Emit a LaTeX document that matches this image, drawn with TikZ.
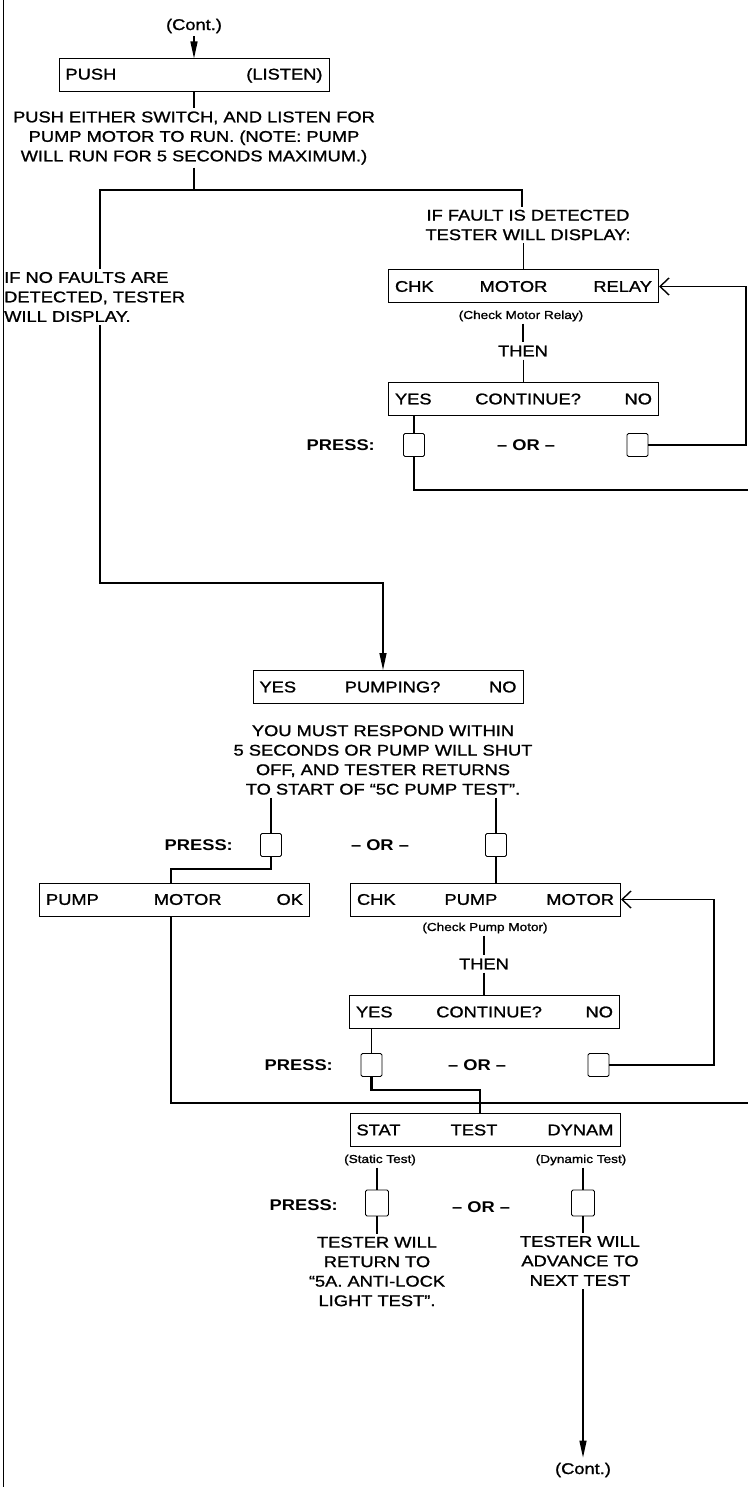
\documentclass[tikz,border=0pt]{standalone}
\usepackage{fontspec}
\setmainfont{Liberation Sans}[FakeStretch=1.18, UprightFeatures={FakeBold=1.2}]
\usetikzlibrary{arrows.meta}
\begin{document}
\begin{tikzpicture}[x=1pt,y=-1pt,
  every node/.style={inner sep=0pt, font=\fontsize{15.5}{19.5}\selectfont},
  disp/.style={draw, line width=1pt, minimum height=33pt, text width=257pt,
    inner xsep=6.5pt, inner ysep=0pt},
  btn/.style={draw, line width=0.9pt, minimum width=21pt, minimum height=23pt,
    rounded corners=1.5pt},
  note/.style={align=center, inner ysep=3pt},
  small/.style={font=\fontsize{11.5}{13}\selectfont, inner ysep=2pt},
  key/.style={font=\bfseries\fontsize{15.5}{19.5}\selectfont},
  word/.style={inner ysep=3pt},
  wire/.style={line width=1.4pt},
  heavy/.style={line width=2.2pt},
  down/.style={wire, -{Triangle[length=17pt,width=7pt]}},
  back/.style={wire, -{Straight Barb[length=9pt,width=17pt]}},
]
\fill[white] (0,0) rectangle (748,1487);
\useasboundingbox (0,0) rectangle (748,1487);

% margin rule on the left
\draw[line width=0.8pt] (3,0) -- (3,1487);

% ---- start: push and listen
\node[word] (contA) at (194,26) {(Cont.)};
\node[disp] (push) at (194,75.5) {PUSH\hfill(LISTEN)};
\draw[down] (contA.south) -- (push.north);
\node[note] (info) at (194,138) {PUSH EITHER SWITCH, AND LISTEN FOR\\PUMP MOTOR TO RUN. (NOTE: PUMP\\WILL RUN FOR 5 SECONDS MAXIMUM.)};
\draw[wire] (push.south) -- (info.north);
\coordinate (split) at (194,190);
\draw[wire] (info.south) -- (split);

% ---- branch: fault / no fault
\coordinate (jL) at (100,190);
\coordinate (jR) at (522,190);
\node[note] (fault) at (528,225) {IF FAULT IS DETECTED\\TESTER WILL DISPLAY:};
\node[align=left, anchor=west, inner ysep=3pt] (noflt) at (4,297) {IF NO FAULTS ARE\\DETECTED, TESTER\\WILL DISPLAY.};
\draw[heavy] (jL |- noflt.north) -- (jL) -- (jR) -- (jR |- fault.north);

% ---- motor relay check loop
\node[disp] (relay) at (523.5,286.5) {CHK\hfill MOTOR\hfill RELAY};
\draw[wire] (relay.north |- fault.south) -- (relay.north);
\node[small] (relayLbl) at (521,316) {(Check Motor Relay)};
\node[word] (then1) at (523,351) {THEN};
\draw[wire] (then1.north |- relayLbl.south) -- (then1.north);
\node[disp] (cont1) at (523.5,399) {YES\hfill CONTINUE?\hfill NO};
\draw[wire] (cont1.north |- then1.south) -- (cont1.north);
\node[btn] (yes1) at (414,445) {};
\node[btn] (no1) at (637.5,445) {};
\node[key, anchor=east] (press1) at (375,445) {PRESS:};
\node[key] (or1) at (526,445) {– OR –};
\draw[wire] (yes1.north |- cont1.south) -- (yes1.north);
\coordinate (exitA) at (748,490);
\draw[heavy] (yes1.south) |- (exitA);
\coordinate (loopA) at (746,445);
\draw[back] (no1.east) -- (loopA) |- (relay.east);

% ---- pumping question
\coordinate (k1) at (383,583);
\node[disp] (ping) at (388,687) {YES\hfill PUMPING?\hfill NO};
\draw[down] (jL |- noflt.south) |- (k1) -- (k1 |- ping.north);
\node[note] (must) at (383,760) {YOU MUST RESPOND WITHIN\\5 SECONDS OR PUMP WILL SHUT\\OFF, AND TESTER RETURNS\\TO START OF ``5C PUMP TEST''.};
\node[btn] (pbL) at (271,845) {};
\node[btn] (pbR) at (496,845) {};
\node[key, anchor=east] (press2) at (233,845) {PRESS:};
\node[key] (or2) at (380,845) {– OR –};
\draw[wire] (pbL.north |- must.south) -- (pbL.north);
\draw[wire] (pbR.north |- must.south) -- (pbR.north);

% ---- pump motor ok / pump motor check loop
\node[disp] (ok) at (174.5,899.5) {PUMP\hfill MOTOR\hfill OK};
\coordinate (k2) at (171,869);
\draw[heavy] (pbL.south) |- (k2) -- (k2 |- ok.north);
\node[disp] (chkp) at (485.5,899.5) {CHK\hfill PUMP\hfill MOTOR};
\draw[wire] (pbR.south) -- (pbR.south |- chkp.north);
\node[small] (pumpLbl) at (485,928) {(Check Pump Motor)};
\node[word] (then2) at (484,964) {THEN};
\draw[wire] (then2.north |- pumpLbl.south) -- (then2.north);
\node[disp] (cont2) at (484.5,1012) {YES\hfill CONTINUE?\hfill NO};
\draw[wire] (then2.south) -- (then2.south |- cont2.north);
\node[btn] (yes2) at (371.5,1065) {};
\node[btn] (no2) at (598.5,1065) {};
\node[key, anchor=east] (press3) at (333,1065) {PRESS:};
\node[key] (or3) at (477,1065) {– OR –};
\draw[wire] (yes2.north |- cont2.south) -- (yes2.north);
\coordinate (loopB) at (714,1065);
\draw[back] (no2.east) -- (loopB) |- (chkp.east);

% ---- static / dynamic test choice
\node[disp] (stat) at (485,1130) {STAT\hfill TEST\hfill DYNAM};
\coordinate (k3) at (480,1090);
\draw[heavy] (yes2.south) |- (k3) -- (k3 |- stat.north);
\coordinate (k4) at (171,1103);
\coordinate (exitB) at (748,1103);
\draw[wire] (k4 |- ok.south) -- (k4) -- (exitB);
\node[small] (statLbl) at (380,1160) {(Static Test)};
\node[small] (dynLbl) at (581,1160) {(Dynamic Test)};
\node[btn, minimum width=23pt, minimum height=26pt] (sb) at (377,1203) {};
\node[btn, minimum width=23pt, minimum height=26pt] (db) at (583,1203) {};
\node[key, anchor=east] (press4) at (338,1205) {PRESS:};
\node[key] (or4) at (481,1207) {– OR –};
\draw[wire] (sb.north |- statLbl.south) -- (sb.north);
\draw[wire] (db.north |- dynLbl.south) -- (db.north);
\node[note] (ret) at (377,1271.5) {TESTER WILL\\RETURN TO\\``5A. ANTI-LOCK\\LIGHT TEST''.};
\node[note] (adv) at (580,1261) {TESTER WILL\\ADVANCE TO\\NEXT TEST};
\draw[wire] (sb.south) -- (sb.south |- ret.north);
\draw[wire] (db.south) -- (db.south |- adv.north);
\node[inner ysep=5pt] (contB) at (583,1470) {(Cont.)};
\draw[down] (db.south |- adv.south) -- (contB.north);
\end{tikzpicture}
\end{document}
